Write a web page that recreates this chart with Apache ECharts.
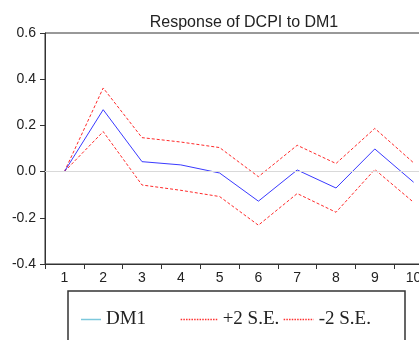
<!DOCTYPE html>
<html><head><meta charset="utf-8">
<script src="https://cdn.jsdelivr.net/npm/echarts@6/dist/echarts.min.js"></script>
<style>html,body{margin:0;padding:0;background:#fff;overflow:hidden;width:419px;height:340px}#c{width:440px;height:340px}</style>
</head><body><div id="c"></div>
<script>
const categories = ['1','2','3','4','5','6','7','8','9','10'];
const dm1 = [0, 0.268, 0.043, 0.029, -0.006, -0.128, 0.007, -0.071, 0.098, -0.046];
const plus2se = [0, 0.362, 0.147, 0.128, 0.104, -0.022, 0.114, 0.035, 0.187, 0.038];
const minus2se = [0, 0.173, -0.058, -0.081, -0.108, -0.232, -0.095, -0.176, 0.009, -0.133];
const yTicks = [-0.4, -0.2, 0.0, 0.2, 0.4, 0.6];

const chart = echarts.init(document.getElementById('c'), null, {renderer:'canvas'});
const redDash = {color:'#ff2a2a', width:1, type:[3,2]};
const legendText = {fontFamily:'"Liberation Serif", "Times New Roman", serif', fontSize:19, color:'#222'};
const legendLine = {color:'#ff3030', width:1.3, type:[1.5,1.2], opacity:1};
const hiddenSym = {color:'rgba(0,0,0,0)', borderWidth:0, opacity:0};
chart.setOption({
  animation:false,
  backgroundColor:'#fff',
  title:{text:'Response of DCPI to DM1', left:239, textAlign:'center', top:10,
    textStyle:{fontFamily:'"Liberation Sans", Arial, sans-serif', fontSize:16, fontWeight:'normal', color:'#222'}},
  grid:{left:45, top:33, width:388, height:231, show:true, borderColor:'#333', borderWidth:1, backgroundColor:'transparent'},
  xAxis:{type:'category', data:categories, boundaryGap:true,
    axisLine:{onZero:false, lineStyle:{color:'#333', width:1}},
    axisTick:{show:true, length:5, lineStyle:{color:'#333'}},
    axisLabel:{fontFamily:'"Liberation Sans", Arial, sans-serif', fontSize:14, color:'#222', margin:7, interval:0},
    splitLine:{show:false}},
  yAxis:{type:'value', min:yTicks[0], max:yTicks[yTicks.length-1], interval:0.2,
    axisLine:{show:true, lineStyle:{color:'#333', width:1}},
    axisTick:{show:true, length:5, lineStyle:{color:'#333'}},
    axisLabel:{fontFamily:'"Liberation Sans", Arial, sans-serif', fontSize:14, color:'#222', margin:9,
      formatter:v=>v.toFixed(1)},
    splitLine:{show:false}},
  legend:[
    {left:76, top:305, itemWidth:20, itemHeight:1.5, itemGap:0, textStyle:legendText, selectedMode:false,
      icon:'rect', itemStyle:{color:'#7cc8dc', opacity:1},
      data:['DM1']},
    {left:175, top:305, itemWidth:37, itemGap:0, textStyle:legendText, selectedMode:false,
      lineStyle:legendLine, itemStyle:hiddenSym, data:['+2 S.E.']},
    {left:278, top:305, itemWidth:30, itemGap:0, textStyle:legendText, selectedMode:false,
      lineStyle:legendLine, itemStyle:hiddenSym, data:['-2 S.E.']}
  ],
  graphic:[{type:'rect', shape:{x:68, y:291, width:337, height:70}, style:{fill:'none', stroke:'#333', lineWidth:1.5}, silent:true}],
  series:[
    {name:'+2 S.E.', type:'line', data:plus2se, symbol:'none', lineStyle:redDash, itemStyle:{color:'#ff2a2a'}},
    {name:'-2 S.E.', type:'line', data:minus2se, symbol:'none', lineStyle:redDash, itemStyle:{color:'#ff2a2a'}},
    {name:'DM1', type:'line', data:dm1, symbol:'none', lineStyle:{color:'#3a3aff', width:1}, itemStyle:{color:'#3a3aff'},
      markLine:{silent:true, symbol:'none', label:{show:false}, lineStyle:{color:'#d9d9d9', type:'solid', width:1},
        data:[{yAxis:0}]}, z:3}
  ]
});
</script></body></html>
